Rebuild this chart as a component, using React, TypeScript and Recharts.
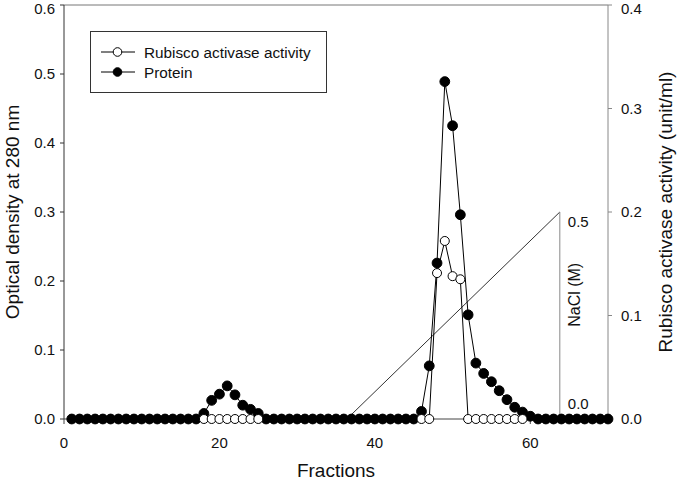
import {
  LineChart,
  Line,
  XAxis,
  YAxis,
  Legend,
  Label,
  ReferenceLine,
  ReferenceDot,
} from "recharts";

// fraction numbers 1..70
const fractions = [
  1, 2, 3, 4, 5, 6, 7, 8, 9, 10, 11, 12, 13, 14, 15, 16, 17, 18, 19, 20,
  21, 22, 23, 24, 25, 26, 27, 28, 29, 30, 31, 32, 33, 34, 35, 36, 37, 38, 39, 40,
  41, 42, 43, 44, 45, 46, 47, 48, 49, 50, 51, 52, 53, 54, 55, 56, 57, 58, 59, 60,
  61, 62, 63, 64, 65, 66, 67, 68, 69, 70,
];

// optical density at 280 nm (left axis)
const protein = [
  0, 0, 0, 0, 0, 0, 0, 0, 0, 0, 0, 0, 0, 0, 0, 0, 0, 0.008, 0.027, 0.036,
  0.048, 0.035, 0.02, 0.014, 0.008, 0, 0, 0, 0, 0, 0, 0, 0, 0, 0, 0, 0, 0, 0, 0,
  0, 0, 0, 0, 0, 0.011, 0.077, 0.226, 0.489, 0.425, 0.296, 0.151, 0.081, 0.066, 0.054, 0.041, 0.028, 0.017, 0.01, 0.004,
  0, 0, 0, 0, 0, 0, 0, 0, 0, 0,
];

// rubisco activase activity, unit/ml (right axis); null = not assayed
const activity = [
  null, null, null, null, null, null, null, null, null, null, null, null, null, null, null, null, null, 0, 0, 0,
  0, 0, 0, 0, 0, null, null, null, null, null, null, null, null, null, null, null, null, null, null, null,
  null, null, null, null, null, 0, 0, 0.141, 0.172, 0.138, 0.135, 0, 0, 0, 0, 0, 0, 0, 0, null,
  null, null, null, null, null, null, null, null, null, null,
];

// NaCl gradient (fraction, left-axis height)
const gradientStart = { x: 36.4, y: 0 };
const gradientEnd = { x: 63.8, y: 0.3 };

const xTicks = [0, 20, 40, 60];
const leftTicks = [0, 0.1, 0.2, 0.3, 0.4, 0.5, 0.6];
const rightTicks = [0, 0.1, 0.2, 0.3, 0.4];

const activityName = "Rubisco activase activity";
const proteinName = "Protein";

const data = fractions.map((f, i) => ({
  f,
  protein: protein[i],
  activity: activity[i],
}));

const FONT = "'Liberation Sans', Arial, sans-serif";

const RotatedTitle = ({ viewBox, value, cx }: any) => {
  const cy = viewBox.y + viewBox.height / 2;
  return (
    <text
      transform={`translate(${cx},${cy}) rotate(-90)`}
      textAnchor="middle"
      dominantBaseline="central"
      fontSize={19}
      fontFamily={FONT}
      fill="#111"
    >
      {value}
    </text>
  );
};

const sideText =
  (text: string, dx: number, dy: number, rotate = false, size = 15) =>
  ({ viewBox }: any) => {
    const x = viewBox.x + viewBox.width / 2 + dx;
    const y = viewBox.y + viewBox.height / 2 + dy;
    return (
      <text
        transform={`translate(${x},${y})${rotate ? " rotate(-90)" : ""}`}
        textAnchor={rotate ? "middle" : "start"}
        dominantBaseline="central"
        fontSize={size}
        fontFamily={FONT}
        fill="#111"
      >
        {text}
      </text>
    );
  };

const LegendBox = () => {
  const rows = [
    { name: activityName, fill: "#fff" },
    { name: proteinName, fill: "#000" },
  ];
  return (
    <svg width={238} height={62} style={{ display: "block" }}>
      <rect x={0.5} y={0.5} width={236} height={61} fill="#fff" stroke="#333" />
      {rows.map((r, i) => {
        const y = 21 + i * 20;
        return (
          <g key={r.name}>
            <line x1={11} x2={45} y1={y} y2={y} stroke="#000" />
            <circle cx={27.5} cy={y} r={4.3} fill={r.fill} stroke="#000" />
            <text
              x={54}
              y={y}
              dominantBaseline="central"
              fontSize={15.3}
              fontFamily={FONT}
              fill="#111"
            >
              {r.name}
            </text>
          </g>
        );
      })}
    </svg>
  );
};

export default function App() {
  return (
    <div style={{ position: "absolute", left: 0, top: 0, width: 677, height: 484 }}>
      <LineChart
        width={677}
        height={484}
        data={data}
        margin={{ top: 5, right: 0, left: 0, bottom: 0 }}
        style={{ fontFamily: FONT }}
      >
        <XAxis
          dataKey="f"
          type="number"
          domain={[0, 70]}
          ticks={xTicks}
          height={65}
          tickSize={5}
          tickMargin={13}
          axisLine={{ stroke: "#444" }}
          tickLine={{ stroke: "#444" }}
          tick={{ fontSize: 15, fill: "#111" }}
        >
          <Label
            value="Fractions"
            position="insideBottom"
            offset={7}
            style={{ fontSize: 19, fill: "#111" }}
          />
        </XAxis>
        <YAxis
          yAxisId="left"
          domain={[0, 0.6]}
          ticks={leftTicks}
          width={64}
          tickSize={4}
          tickMargin={5}
          tickFormatter={(v: number) => v.toFixed(1)}
          axisLine={{ stroke: "#333" }}
          tickLine={{ stroke: "#333" }}
          tick={{ fontSize: 15, fill: "#111" }}
        >
          <Label
            value="Optical density at 280 nm"
            content={(p: any) => <RotatedTitle {...p} cx={12} />}
          />
        </YAxis>
        <YAxis
          yAxisId="right"
          orientation="right"
          domain={[0, 0.4]}
          ticks={rightTicks}
          width={69}
          tickSize={4}
          tickMargin={9}
          tickFormatter={(v: number) => v.toFixed(1)}
          axisLine={{ stroke: "#888" }}
          tickLine={{ stroke: "#888" }}
          tick={{ fontSize: 15, fill: "#111" }}
        >
          <Label
            value="Rubisco activase activity (unit/ml)"
            content={(p: any) => <RotatedTitle {...p} cx={665} />}
          />
        </YAxis>

        {/* top frame */}
        <ReferenceLine yAxisId="left" y={0.6} stroke="#777" />

        {/* NaCl gradient */}
        <ReferenceLine
          yAxisId="left"
          segment={[gradientStart, gradientEnd]}
          stroke="#333"
          strokeWidth={1}
        />
        <ReferenceLine
          yAxisId="left"
          segment={[gradientEnd, { x: gradientEnd.x, y: 0 }]}
          stroke="#888"
          strokeWidth={1}
        />
        <ReferenceDot
          yAxisId="left"
          x={gradientEnd.x}
          y={gradientEnd.y}
          r={1}
          fill="none"
          stroke="none"
          label={sideText("0.5", 8, 9)}
        />
        <ReferenceDot
          yAxisId="left"
          x={gradientEnd.x}
          y={0}
          r={1}
          fill="none"
          stroke="none"
          label={sideText("0.0", 8, -16)}
        />
        <ReferenceDot
          yAxisId="left"
          x={gradientEnd.x}
          y={0.18}
          r={1}
          fill="none"
          stroke="none"
          label={sideText("NaCl (M)", 15, 0, true, 16)}
        />

        <Line
          yAxisId="left"
          type="linear"
          dataKey="protein"
          name={proteinName}
          stroke="#000"
          strokeWidth={1}
          dot={{ r: 4.9, fill: "#000", stroke: "#000", strokeWidth: 1 }}
          activeDot={false}
          isAnimationActive={false}
        />
        <Line
          yAxisId="right"
          type="linear"
          dataKey="activity"
          name={activityName}
          stroke="#000"
          strokeWidth={1}
          dot={{ r: 4.5, fill: "#fff", stroke: "#000", strokeWidth: 1 }}
          activeDot={false}
          isAnimationActive={false}
        />

        <Legend
          layout="vertical"
          align="center"
          verticalAlign="middle"
          content={() => <LegendBox />}
          wrapperStyle={{ left: 90, top: 31, width: 238, height: 62 }}
        />
      </LineChart>
    </div>
  );
}
